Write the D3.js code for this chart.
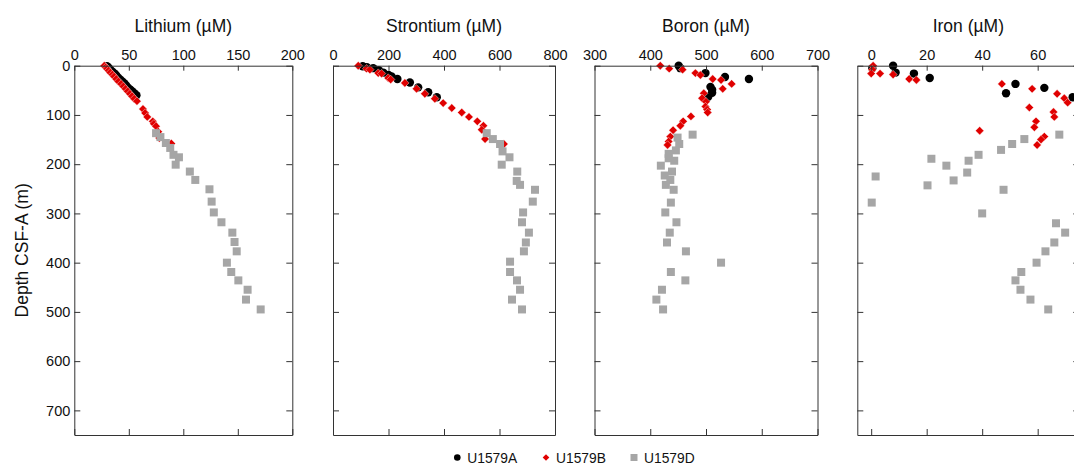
<!DOCTYPE html>
<html>
<head>
<meta charset="utf-8">
<script src="https://cdn.jsdelivr.net/npm/d3@7"></script>
<style>
  body { margin: 0; background: #fff; }
  svg { display: block; font-family: "Liberation Sans", Arial, sans-serif; }
  .axis path, .axis line { stroke: #333; }
  .axis text { font-size: 14.5px; fill: #111; font-family: "Liberation Sans", Arial, sans-serif; }
</style>
</head>
<body>
<svg id="chart" width="1074" height="463"></svg>
<script>

// depth axis (shared)
var depthTicks = [0, 100, 200, 300, 400, 500, 600, 700];

// panel titles / x domains / x ticks
var titles = ["Lithium (µM)", "Strontium (µM)", "Boron (µM)", "Iron (µM)"];
var xDomains = [[0, 200], [0, 800], [300, 700], [-5, 75]];
var xTicks = [[0, 50, 100, 150, 200], [0, 200, 400, 600, 800], [300, 400, 500, 600, 700], [0, 20, 40, 60]];

var holes = ["U1579A", "U1579B", "U1579D"];

// [depth (m), value]
var lithiumA = [[1,30],[4,31.5],[8,33],[12,35],[16,37],[20,38.5],[24,40],[28,42],[32,44],[36,46],[40,47.5],[44,49],[48,51],[52,53],[56,55],[60,57]];
var lithiumB = [[0,27.5],[3,29],[6,30],[10,31.5],[14,33],[18,35],[22,36.5],[27,38.5],[32,40.5],[37,43],[42,45],[47,47],[52,49],[57,51],[62,53],[67,55],[72,57.5],[88,63],[96,65],[104,67],[113,72],[118,73],[123,75],[134,77],[147,78],[158,89]];
var lithiumD = [[137,75],[145,79],[157,84],[167,88],[181,91],[186,96],[201,93],[215,106],[232,111],[251,124],[276,126],[298,128],[318,135],[339,145],[358,147],[377,149],[400,140],[419,144],[436,150.5],[455,159],[475,157.5],[495,171]];

var strontiumA = [[1,107],[3,122],[5,145],[9,165],[14,181],[19,200],[22,211],[27,232],[34,277],[44,307],[54,343],[64,374]];
var strontiumB = [[0,91],[6,121],[8,133],[15,163],[16,175],[25,199],[28,208],[35,259],[47,301],[57,331],[67,367],[76,397],[86,428],[95,464],[104,490],[113,520],[122,542],[130,536],[149,548],[159,616]];
var strontiumD = [[137,554],[149,576],[159,602],[174,611],[186,636],[201,608],[215,664],[234,662],[242,674],[252,728],[276,720],[298,685],[318,681],[339,706],[359,695],[377,688],[398,638],[419,638],[436,663],[455,674],[475,645],[495,681]];

var boronA = [[0,451],[5,454],[15,499],[23,534],[27,577],[43,508],[49,511],[55,511],[63,504]];
var boronB = [[0,418],[6,434],[8,458],[15,481],[19,490],[27,512],[29,527],[37,546],[47,530],[56,496],[66,493],[73,500],[83,499],[89,502],[95,503],[103,473],[113,459],[122,454],[131,441],[144,436],[154,433],[161,431]];
var boronD = [[140,476],[146,449],[159,452],[172,446],[179,433],[188,433],[193,443],[203,419],[215,439],[223,426],[232,436],[242,428],[252,442],[278,437],[298,427],[318,447],[339,435],[359,430],[377,464],[400,527],[419,437],[436,463],[455,421],[475,411],[495,423]];

var ironA = [[0,7.9],[5,0.4],[14,8.8],[16,15.4],[25,21.1],[37,52],[45,62.4],[56,48.6],[64,72.6]];
var ironB = [[0,0.7],[8,0.4],[16,0],[16,3.2],[18,7.9],[27,13.7],[29,16.3],[37,47.1],[47,58],[57,67],[66,69.6],[75,70.8],[85,57],[94,65.7],[104,66],[113,59.4],[125,58.8],[132,39.1],[144,62.4],[150,61.2],[161,59.8]];
var ironD = [[140,67.8],[149,55.2],[159,50.8],[171,46.8],[181,38.7],[189,21.7],[193,35.1],[203,27.1],[217,34.6],[225,1.6],[233,29.7],[243,20.3],[252,47.7],[278,0.2],[300,40],[320,66.6],[339,69.9],[359,66],[377,62.8],[400,59.6],[419,54.1],[436,52],[455,53.8],[475,57.4],[495,63.8]];

var panelData = [
  [lithiumA, lithiumB, lithiumD],
  [strontiumA, strontiumB, strontiumD],
  [boronA, boronB, boronD],
  [ironA, ironB, ironD]
];

// layout
var panelLeft = [74.3, 333, 594.5, 857.3]
  , panelWidth = [218, 222, 223, 222]
  , plotTop = 65.7
  , plotBottom = 435;

var colors = ["#000000", "#e00000", "#a6a6a6"];

var svg = d3.select("#chart");

var y = d3.scaleLinear().domain([0, 750]).range([plotTop, plotBottom]);

// marker paths centred on 0,0
function marker(kind, s) {
  if (kind == 0) return d3.symbol().type(d3.symbolCircle).size(Math.PI * s * s)();
  if (kind == 1) return "M0," + (-s) + "L" + s + ",0L0," + s + "L" + (-s) + ",0Z";
  return "M" + (-s) + "," + (-s) + "H" + s + "V" + s + "H" + (-s) + "Z";
}
var markerSize = [4.2, 4.2, 4];

titles.forEach(function(title, p){

  var x = d3.scaleLinear().domain(xDomains[p]).range([panelLeft[p], panelLeft[p] + panelWidth[p]]);
  var g = svg.append("g");

  // draw points: A, then B, then D
  panelData[p].forEach(function(series, k){
    g.append("g").selectAll("path")
      .data(series)
      .enter().append("path")
      .attr("d", marker(k, markerSize[k]))
      .attr("fill", colors[k])
      .attr("stroke", k == 1 ? "#fff" : "none")
      .attr("stroke-width", 0.4)
      .attr("transform", function(d){ return "translate(" + x(d[1]) + "," + y(d[0]) + ")"; });
  });

  // top axis with labels
  g.append("g").attr("class", "axis")
    .attr("transform", "translate(0," + plotTop + ")")
    .call(d3.axisTop(x).tickValues(xTicks[p]).tickSizeInner(-5).tickSizeOuter(0).tickPadding(6).tickFormat(d3.format("d")));

  // bottom axis, ticks only
  g.append("g").attr("class", "axis")
    .attr("transform", "translate(0," + plotBottom + ")")
    .call(d3.axisBottom(x).tickValues(xTicks[p]).tickSizeInner(-6).tickSizeOuter(0).tickFormat(""));

  // left axis (labels only on first panel)
  g.append("g").attr("class", "axis")
    .attr("transform", "translate(" + panelLeft[p] + ",0)")
    .call(d3.axisLeft(y).tickValues(depthTicks).tickSizeInner(-6).tickSizeOuter(0).tickPadding(4)
      .tickFormat(p == 0 ? d3.format("d") : ""));

  // right axis
  g.append("g").attr("class", "axis")
    .attr("transform", "translate(" + (panelLeft[p] + panelWidth[p]) + ",0)")
    .call(d3.axisRight(y).tickValues(depthTicks).tickSizeInner(-6).tickSizeOuter(0).tickFormat(""));

  // title
  g.append("text")
    .attr("x", panelLeft[p] + panelWidth[p] / 2)
    .attr("y", 31.5)
    .attr("text-anchor", "middle")
    .style("font-size", "17.5px")
    .style("fill", "#111")
    .text(title);
});

// y axis title
svg.append("text")
  .attr("transform", "translate(28," + ((plotTop + plotBottom) / 2) + ") rotate(-90)")
  .attr("text-anchor", "middle")
  .style("font-size", "17.5px")
  .style("fill", "#111")
  .text("Depth CSF-A (m)");

// legend
var legendX = [457.3, 546, 634];
var legend = svg.append("g").attr("transform", "translate(0,457.5)");
holes.forEach(function(h, k){
  legend.append("path")
    .attr("d", marker(k, k == 2 ? 3.5 : 3.3))
    .attr("fill", colors[k])
    .attr("transform", "translate(" + legendX[k] + ",0)");
  legend.append("text")
    .attr("x", legendX[k] + 10)
    .attr("y", 5)
    .style("font-size", "13.8px")
    .style("fill", "#111")
    .text(h);
});
</script>
</body>
</html>
